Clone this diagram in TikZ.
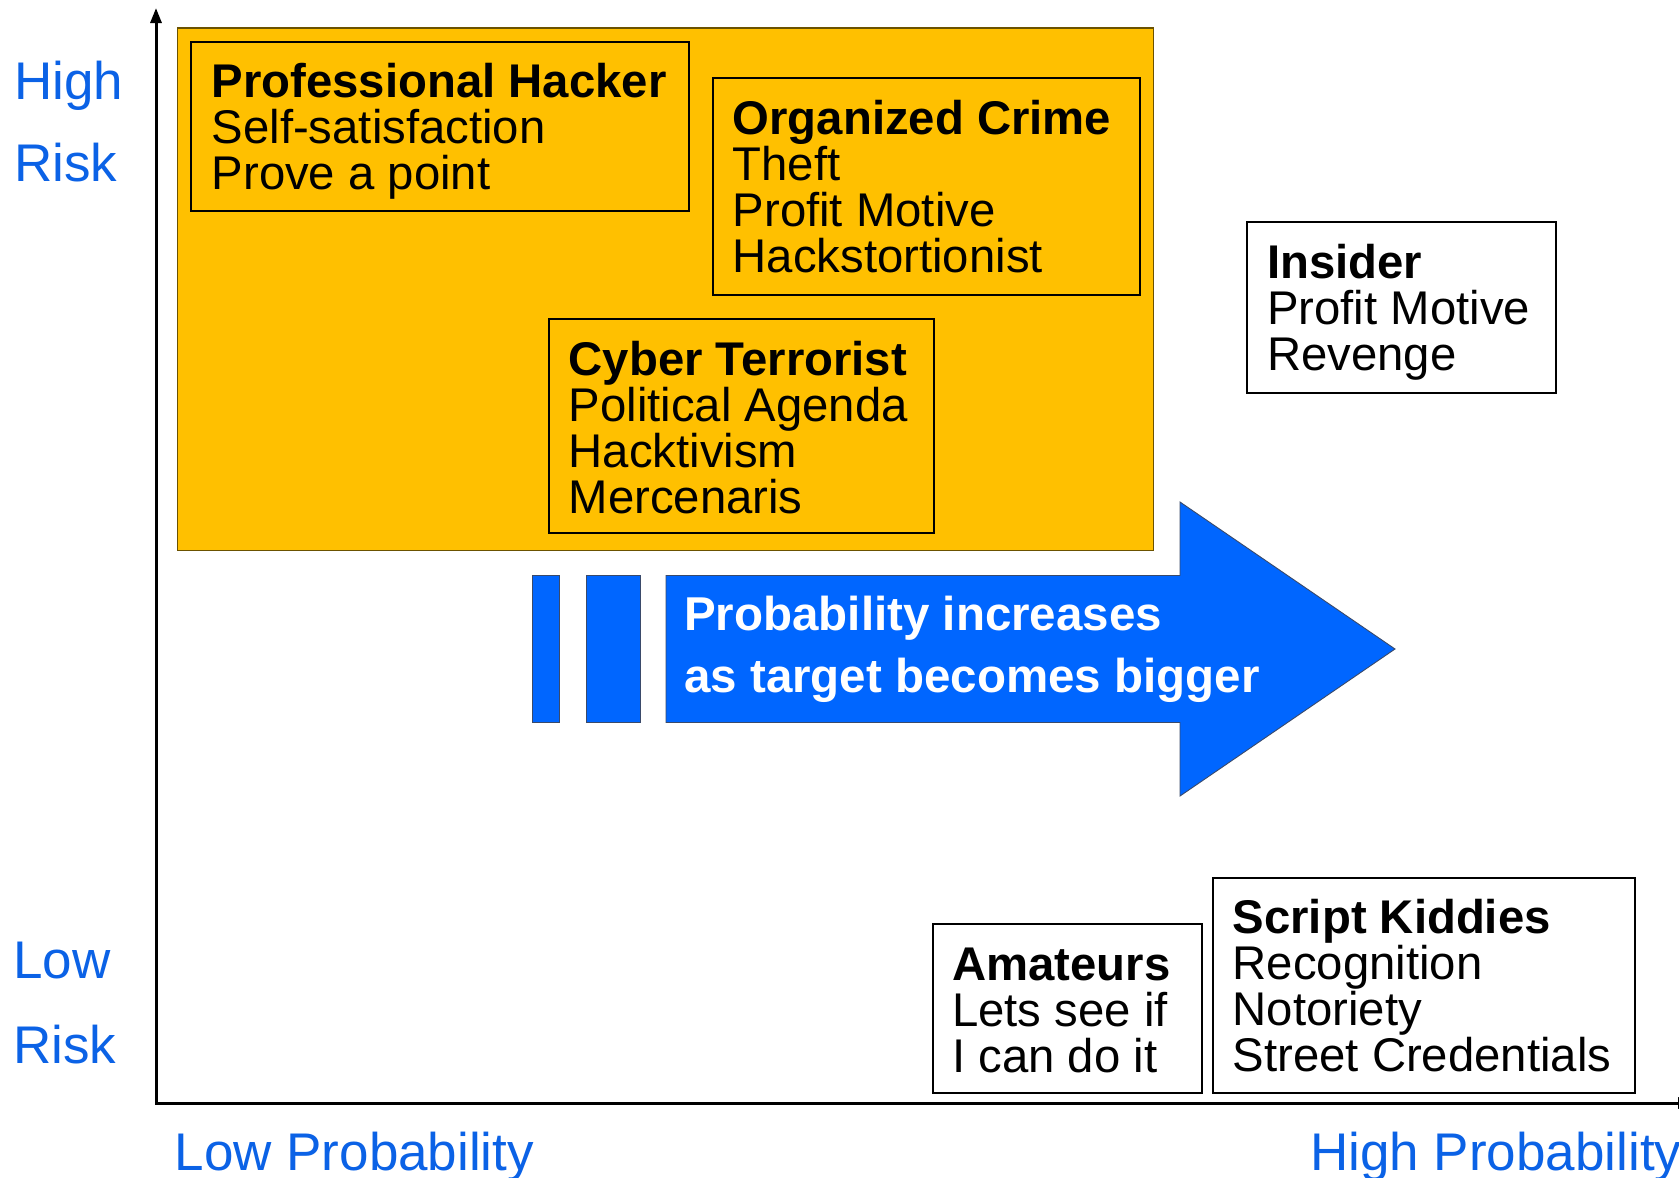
\documentclass[tikz,border=0pt]{standalone}
\usepackage{fontspec}
\setmainfont{Liberation Sans}
\usetikzlibrary{arrows.meta}
\definecolor{gold}{HTML}{FFC000}
\definecolor{goldedge}{HTML}{6B5200}
\definecolor{arrowblue}{HTML}{0066FF}
\definecolor{arrowedge}{HTML}{3A4A6A}
\definecolor{labelblue}{HTML}{0B62E6}
\newcommand{\firstline}{\rule{0pt}{35pt}}
\begin{document}
\begin{tikzpicture}[x=1pt,y=-1pt,
  frame/.style={draw=black, line width=2pt, anchor=north west, inner sep=0pt},
  body/.style={anchor=north west, inner sep=0pt, align=left,
    font=\fontsize{47.3}{46}\selectfont},
  banner/.style={anchor=north west, inner sep=0pt, align=left, text=white,
    font=\fontsize{47.5}{61.3}\selectfont\bfseries},
  axislabel/.style={anchor=base west, inner sep=0pt, text=labelblue,
    font=\fontsize{53}{53}\selectfont},
  axisline/.style={line width=3pt, line join=miter,
    {Triangle[length=15pt,width=11pt]}-{Triangle[length=15pt,width=11pt]}},
  bluepart/.style={fill=arrowblue, draw=arrowedge, line width=0.9pt},
]
\useasboundingbox (0,0) rectangle (1679,1178);
\fill[white] (0,0) rectangle (1679,1178);

% high-risk zone
\filldraw[fill=gold, draw=goldedge, line width=1.2pt] (177.5,28) rectangle (1153.5,550.5);

% axes
\coordinate (ytop) at (156,8);
\coordinate (origin) at (156,1103);
\coordinate (xend) at (1693,1103);
\draw[axisline] (ytop) -- (origin) -- (xend);

% axis labels
\node[axislabel] (hi1) at (14,99.3) {High};
\node[axislabel] (hi2) at (14,181.7) {Risk};
\node[axislabel] (lo1) at (13,978.3) {Low};
\node[axislabel] (lo2) at (13,1063) {Risk};
\node[axislabel] (lowp) at (174.5,1170) {Low Probability};
\node[axislabel] (highp) at (1310,1170) {High Probability};

% attacker groups
\node[frame, minimum width=498pt, minimum height=169pt] (ph) at (190,41) {};
\node[body] (phtext) at (211.5,62) {\firstline\textbf{Professional Hacker}\\Self-satisfaction\\Prove a point};

\node[frame, minimum width=426.5pt, minimum height=216.5pt] (oc) at (712,77) {};
\node[body] (octext) at (732.5,99) {\firstline\textbf{Organized Crime}\\Theft\\Profit Motive\\Hackstortionist};

\node[frame, minimum width=385pt, minimum height=214pt] (ct) at (548,318) {};
\node[body] (cttext) at (568.5,340) {\firstline\textbf{Cyber Terrorist}\\Political Agenda\\Hacktivism\\Mercenaris};

\node[frame, fill=white, minimum width=309pt, minimum height=171pt] (ins) at (1246,221) {};
\node[body] (instext) at (1267,243) {\firstline\textbf{Insider}\\Profit Motive\\Revenge};

\node[frame, fill=white, minimum width=269pt, minimum height=168.5pt] (am) at (931.5,923) {};
\node[body] (amtext) at (952,945) {\firstline\textbf{Amateurs}\\Lets see if\\I can do it};

\node[frame, fill=white, minimum width=421.5pt, minimum height=215pt] (sk) at (1212,877) {};
\node[body] (sktext) at (1232.5,898) {\firstline\textbf{Script Kiddies}\\Recognition\\Notoriety\\Street Credentials};

% probability arrow
\fill[bluepart] (532,575.5) rectangle (559.5,722.5);
\fill[bluepart] (586,575.5) rectangle (640,722.5);
\fill[bluepart] (666,575.5) -- (1180,575.5) -- (1180,502) -- (1395,649)
  -- (1180,796) -- (1180,722.5) -- (666,722.5) -- cycle;
\node[banner] (probtext) at (684,595.7) {\firstline Probability increases\\as target becomes bigger};
\end{tikzpicture}
\end{document}
